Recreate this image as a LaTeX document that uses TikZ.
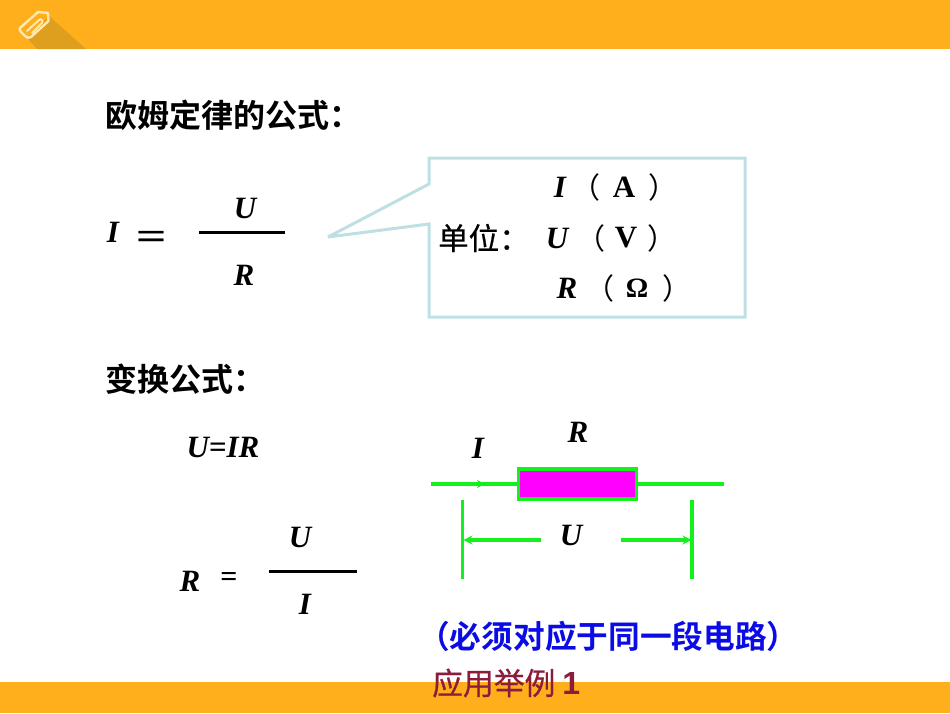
\documentclass[tikz,border=0pt]{standalone}
\usepackage{fontspec}
\setmainfont{Liberation Serif}
\setsansfont{Liberation Sans}
\newfontfamily\cjk{Noto Sans CJK SC}
\newfontfamily\cjkb{Noto Sans CJK SC Bold}
\newfontfamily\cjkm{Noto Sans CJK SC}[FakeBold=0.6]
\usetikzlibrary{arrows.meta}
\definecolor{barcol}{HTML}{FFAE1C}
\definecolor{shadecol}{HTML}{DE9F1E}
\definecolor{boxcol}{HTML}{BFE0E3}
\definecolor{wirecol}{HTML}{14F01E}
\definecolor{redtxt}{HTML}{8C1C3E}
\definecolor{bluetxt}{HTML}{0B0BE6}
\definecolor{clipcol}{HTML}{FFE9B0}
\definecolor{rescol}{HTML}{FF00FF}
\tikzset{
  var/.style={inner sep=0pt,font=\fontsize{31}{31}\selectfont\bfseries\itshape},
  unit/.style={inner sep=0pt,font=\fontsize{31}{31}\selectfont\bfseries},
  paren/.style={inner sep=0pt,font=\fontsize{29}{29}\selectfont\cjk},
  head/.style={inner sep=0pt,anchor=west,font=\fontsize{32}{32}\selectfont\cjkb},
  wire/.style={draw=wirecol,line width=3.2pt},
  fracbar/.style={draw=black,line width=3pt},
  dim/.style={draw=wirecol,line width=3.2pt,-{Stealth[length=9pt,width=9pt]}},
}
\begin{document}
\begin{tikzpicture}[x=1pt,y=-1pt]
\useasboundingbox (0,0) rectangle (950,713);
\fill[white] (0,0) rectangle (950,713);
% bars
\fill[barcol] (0,0) rectangle (950,49);
\fill[barcol] (0,682) rectangle (950,713);
\fill[shadecol] (27,38) -- (49,16) -- (86,49) -- (37,49) -- cycle;
% clip icon
\draw[clipcol,line width=2.4pt,line join=round] (20,28) -- (38,12) -- (48,13) -- (48.5,21) -- (31,37) .. controls (29,38.5) and (27,38) .. (25,36) -- (21,32) .. controls (19.5,30.5) and (19.5,29) .. (20,28) -- cycle;
\draw[clipcol,line width=2pt,line cap=round] (27,31) -- (39,20) .. controls (41,18) and (44,21) .. (42,23) -- (32,33);
% headings
\node[head] (h1) at (105,115) {欧姆定律的公式：};
\node[head] (h2) at (105,379) {变换公式：};
% ohm's law
\node[var] (i1) at (113,232) {I};
\node[inner sep=0pt,font=\fontsize{34}{34}\selectfont\cjkm] (eq1) at (151,240) {＝};
\node[var] (u1) at (245,208) {U};
\coordinate (b1a) at (199,232.5);
\coordinate (b1b) at (285,232.5);
\draw[fracbar] (b1a) -- (b1b);
\node[var] (r1) at (244,275) {R};
% callout
\coordinate (c1) at (429,158);
\coordinate (c2) at (745,158);
\coordinate (c3) at (745,317);
\coordinate (c4) at (429,317);
\coordinate (c5) at (429,224);
\coordinate (tip) at (328,237);
\coordinate (c6) at (429,184);
\draw[boxcol,line width=3pt,line join=miter,miter limit=2] (c1) -- (c2) -- (c3) -- (c4) -- (c5) -- (tip) -- (c6) -- cycle;
\node[inner sep=0pt,anchor=west,font=\fontsize{30.5}{30.5}\selectfont\cjkm] (dw) at (438,238) {单位：};
\node[var] (ui) at (560,187) {I};
\node[paren] (pa1) at (586,187) {（};
\node[unit] (ua) at (624,187) {A};
\node[paren] (pa2) at (663,187) {）};
\node[var] (uu) at (557,238) {U};
\node[paren] (pb1) at (591,238) {（};
\node[unit] (uv) at (626,238) {V};
\node[paren] (pb2) at (662,238) {）};
\node[var] (ur) at (567,288) {R};
\node[paren] (pc1) at (600,288) {（};
\node[unit,font=\fontsize{28}{28}\selectfont\bfseries] (uo) at (637,288) {Ω};
\node[paren] (pc2) at (677,288) {）};
% transforms
\node[inner sep=0pt,font=\fontsize{31}{31}\selectfont\bfseries\itshape] (uir) at (223,447) {U=IR};
\node[var] (r2) at (190,581) {R};
\node[inner sep=0pt,font=\fontsize{30}{30}\selectfont\bfseries] (eq2) at (229,579) {=};
\node[var] (u2) at (300,537) {U};
\coordinate (b2a) at (269,571);
\coordinate (b2b) at (357,571);
\draw[fracbar] (b2a) -- (b2b);
\node[var] (i2) at (305,604) {I};
% circuit
\node[draw=wirecol,fill=rescol,line width=3.2pt,minimum width=118pt,minimum height=30pt,inner sep=0pt,outer sep=0pt] (res) at (577.5,484) {};
\coordinate (wl) at (431,484);
\coordinate (wm) at (485,484);
\coordinate (wr) at (724,484);
\draw[wire] (wl) -- (res.west);
\draw[wire] (res.east) -- (wr);
\draw[draw=wirecol,line width=1pt,-{Stealth[length=8pt,width=8pt]}] (470,484) -- (wm);
\node[var] (ci) at (478,448) {I};
\node[var] (cr) at (578,432) {R};
\node[var] (cu) at (571,535) {U};
\coordinate (t1) at (462.5,500);
\coordinate (t2) at (462.5,579);
\coordinate (t3) at (692,500);
\coordinate (t4) at (692,579);
\draw[wire] (t1) -- (t2);
\draw[wire] (t3) -- (t4);
\coordinate (d1) at (541,540);
\coordinate (d2) at (463.5,540);
\coordinate (d3) at (621,540);
\coordinate (d4) at (691.5,540);
\draw[dim] (d1) -- (d2);
\draw[dim] (d3) -- (d4);
% bottom text
\node[inner sep=0pt,anchor=west,text=bluetxt,font=\fontsize{31.7}{31.7}\selectfont\cjkb] (note) at (418,636) {（必须对应于同一段电路）};
\node[inner sep=0pt,anchor=west,text=redtxt,font=\fontsize{30.8}{30.8}\selectfont\cjkm] (ex) at (432,683) {应用举例 {\fontsize{32}{32}\selectfont\sffamily\bfseries 1}};
\end{tikzpicture}
\end{document}
